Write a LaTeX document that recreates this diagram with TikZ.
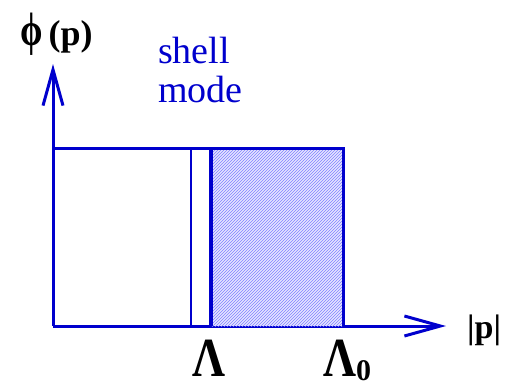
\documentclass[tikz,border=0pt]{standalone}
\usepackage{fontspec}
\setmainfont{Liberation Serif}
\usepackage{amsmath,amssymb}
\usetikzlibrary{arrows.meta,positioning,patterns}

\definecolor{lineblue}{RGB}{0,0,205}

\tikzset{
    axis/.style={lineblue, line width=3pt, -{Straight Barb[length=36pt,width=20pt,line width=3pt]}},
    label/.style={anchor=base west, inner sep=0pt, text depth=0pt}
}

\begin{document}
\begin{tikzpicture}[x=1pt, y=-1pt]
    \useasboundingbox (0,0) rectangle (509,386);

    % Axes
    \coordinate (O) at (53,326);
    \coordinate (xend) at (446,326);
    \coordinate (yend) at (53,64);
    \draw[axis] (O) -- (xend);
    \draw[axis] (O) -- (yend);

    % Shell region (hatched)
    \fill[blue!10] (211,148) rectangle (343,326);
    \fill[pattern=north east lines, pattern color=blue!50] (211,148) rectangle (343,326);

    % Box
    \draw[lineblue, line width=3pt] (53,148) -- (343,148) -- (343,326);
    \draw[lineblue, line width=2pt] (191,148) -- (191,326);
    \draw[lineblue, line width=4pt] (211,148) -- (211,326);

    % Labels
    \node[label, font=\fontsize{36}{40}\selectfont\bfseries] (phi) at (20,45) {\scalebox{1}[1.3]{ϕ}\,(p)};
    \node[label, align=left, text=lineblue, font=\fontsize{38}{39}\selectfont] (shell) at (158,102) {shell\\mode};
    \node[label, font=\fontsize{34}{40}\selectfont\bfseries] (pabs) at (467,338) {|p|};
    \node[label, font=\fontsize{46}{50}\selectfont\bfseries] (lam) at (192,376) {\scalebox{1}[1.2]{Λ}};
    \node[label, font=\fontsize{46}{50}\selectfont\bfseries] (lamzero) at (323,376) {\scalebox{1}[1.2]{Λ}\raisebox{-4pt}{\fontsize{30}{30}\selectfont 0}};
\end{tikzpicture}
\end{document}
